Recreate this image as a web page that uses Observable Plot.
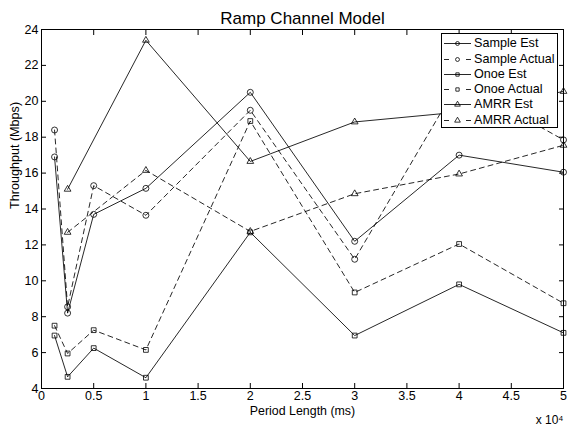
<!DOCTYPE html>
<html><head><meta charset="utf-8">
<script src="https://cdn.jsdelivr.net/npm/d3@7"></script>
<script src="https://cdn.jsdelivr.net/npm/@observablehq/plot@0.6"></script>
<style>
body{margin:0;background:#fff;}
#wrap{position:relative;width:571px;height:426px;font-family:"Liberation Sans",Arial,Helvetica,sans-serif;}
#legend{position:absolute;left:441px;top:33px;width:115px;height:93px;border:1px solid #000;background:#fff;}
.row{position:absolute;left:0;height:15px;width:115px;}
.row svg{position:absolute;left:0;top:0;}
.row span{position:absolute;left:32px;top:0;line-height:15px;font-size:12.6px;color:#000;white-space:nowrap;}
</style></head>
<body><div id="wrap"></div>
<script>
// ---- data ----
const title = "Ramp Channel Model";
const xLabel = "Period Length (ms)";
const yLabel = "Throughput (Mbps)";
const xExponent = "x 10\u2074";
const seriesNames = ["Sample Est", "Sample Actual", "Onoe Est", "Onoe Actual", "AMRR Est", "AMRR Actual"];
const periodsMs = [1250, 2500, 5000, 10000, 20000, 30000, 40000, 50000];
const amrrPeriodsMs = [2500, 10000, 20000, 30000, 40000, 50000];
const sampleEst = [16.9, 8.2, 13.7, 15.15, 20.5, 12.2, 17.0, 16.05];
const sampleActual = [18.4, 8.55, 15.3, 13.65, 19.5, 11.2, 21.1, 17.85];
const onoeEst = [6.95, 4.65, 6.25, 4.6, 12.7, 6.95, 9.8, 7.1];
const onoeActual = [7.5, 5.95, 7.25, 6.15, 18.9, 9.35, 12.05, 8.75];
const amrrEst = [15.1, 23.4, 16.65, 18.85, 19.4, 20.55];
const amrrActual = [12.7, 16.15, 12.75, 14.85, 15.95, 17.55];
const xTicks = [0, 5000, 10000, 15000, 20000, 25000, 30000, 35000, 40000, 45000, 50000];
const xTickLabels = ["0", "0.5", "1", "1.5", "2", "2.5", "3", "3.5", "4", "4.5", "5"];
const yTicks = [4, 6, 8, 10, 12, 14, 16, 18, 20, 22, 24];

const series = [
  {name: seriesNames[0], xs: periodsMs, ys: sampleEst, symbol: "circle", dashed: false, r: 3},
  {name: seriesNames[1], xs: periodsMs, ys: sampleActual, symbol: "circle", dashed: true, r: 3},
  {name: seriesNames[2], xs: periodsMs, ys: onoeEst, symbol: "square", dashed: false, r: 2.7},
  {name: seriesNames[3], xs: periodsMs, ys: onoeActual, symbol: "square", dashed: true, r: 2.7},
  {name: seriesNames[4], xs: amrrPeriodsMs, ys: amrrEst, symbol: "triangle", dashed: false, r: 2.5},
  {name: seriesNames[5], xs: amrrPeriodsMs, ys: amrrActual, symbol: "triangle", dashed: true, r: 2.5}
];
const rows = series.flatMap(s => s.ys.map((v, i) => ({series: s.name, period: s.xs[i], value: v})));

const FONT = "'Liberation Sans', Arial, Helvetica, sans-serif";
const marks = [];
for (const s of series) {
  const d = rows.filter(r => r.series === s.name);
  marks.push(Plot.line(d, {x: "period", y: "value", stroke: "#000", strokeWidth: 0.85,
    strokeDasharray: s.dashed ? "5,4" : null}));
}
for (const s of series) {
  const d = rows.filter(r => r.series === s.name);
  marks.push(Plot.dot(d, {x: "period", y: "value", symbol: s.symbol, r: s.r, stroke: "#000",
    fill: "none", strokeWidth: 0.8}));
}

const chart = Plot.plot({
  width: 571, height: 426,
  marginLeft: 41, marginRight: 8, marginTop: 29, marginBottom: 38,
  style: {fontFamily: FONT, fontSize: "12.5px", color: "#000", background: "#fff"},
  x: {domain: [0, 50000]},
  y: {domain: [4, 24]},
  marks: [
    ...marks,
    Plot.frame({stroke: "#000", strokeWidth: 1}),
    Plot.axisX(xTicks, {tickSize: 0, tickPadding: 3, tickFormat: d => xTickLabels[xTicks.indexOf(d)], label: null}),
    Plot.axisX(xTicks, {tickSize: -5, tickFormat: () => "", label: null}),
    Plot.axisX(xTicks, {anchor: "top", tickSize: -5, tickFormat: () => "", label: null}),
    Plot.axisY(yTicks, {tickSize: 0, tickPadding: 3, label: null}),
    Plot.axisY(yTicks, {tickSize: -5, tickFormat: () => "", label: null}),
    Plot.axisY(yTicks, {anchor: "right", tickSize: -5, tickFormat: () => "", label: null}),
    Plot.text([title], {frameAnchor: "top", dy: -5.7, lineAnchor: "bottom", fontSize: 17}),
    Plot.text([xLabel], {frameAnchor: "bottom", dy: 26, fontSize: 12.4}),
    Plot.text([yLabel], {frameAnchor: "left", dx: -27, rotate: -90, fontSize: 12.6}),
    Plot.text([xExponent], {frameAnchor: "bottom-right", dy: 35, lineAnchor: "bottom", textAnchor: "end", fontSize: 12})
  ]
});
const wrap = document.getElementById("wrap");
wrap.appendChild(chart);

// legend inside the axes (top-right)
const legend = d3.select(wrap).append("div").attr("id", "legend");
const legendSize = {circle: 12, square: 11, triangle: 14};
const symMap = {circle: d3.symbolCircle, square: d3.symbolSquare, triangle: d3.symbolTriangle};
series.forEach((s, i) => {
  const row = legend.append("div").attr("class", "row").style("top", (2.2 + 15.3 * i) + "px");
  const svg = row.append("svg").attr("width", 32).attr("height", 15);
  svg.append("line").attr("x1", 2).attr("x2", 29).attr("y1", 7.5).attr("y2", 7.5)
    .attr("stroke", "#000").attr("stroke-width", 0.85)
    .attr("stroke-dasharray", s.dashed ? "5,17,5,100" : null);
  svg.append("path").attr("transform", "translate(15.5,7.5)")
    .attr("d", d3.symbol(symMap[s.symbol], legendSize[s.symbol])())
    .attr("fill", "none").attr("stroke", "#000").attr("stroke-width", 0.8);
  row.append("span").text(s.name);
});
</script>
</body></html>
